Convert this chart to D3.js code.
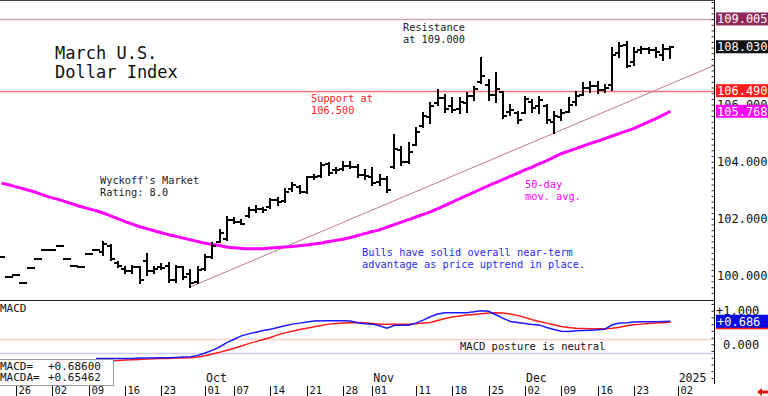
<!DOCTYPE html>
<html>
<head>
<meta charset="utf-8">
<script src="https://cdn.jsdelivr.net/npm/d3@7"></script>
<style>
  body { margin: 0; background: #fff; }
  svg { display: block; font-family: "DejaVu Sans Mono", monospace; }
</style>
</head>
<body>
<svg id="chart" width="768" height="396"></svg>
<script>
// ---- data (one entry per trading session, first bar = 2 sessions before Aug 26) ----
const firstSlot = -2;
const opens = [100.67, 99.97, 100.02, 99.75, 100.26, 100.58, 100.90, 100.90, 101.04, 100.58, 100.33, 100.30, 100.75, 100.90,
  100.85, 101.05, 100.45, 100.25, 100.15, 100.30, 100.50, 100.15, 100.30, 100.35, 99.85, 100.30, 100.05, 99.78,
  100.25, 100.65, 101.20, 101.30, 101.95, 101.90, 102.10, 102.30, 102.35, 102.40, 102.65, 102.62, 103.05, 103.10,
  102.92, 103.45, 103.50, 103.92, 103.70, 103.75, 103.85, 103.80, 103.55, 103.45, 103.30, 103.40, 103.80, 104.40,
  104.00, 104.60, 105.25, 105.55, 106.05, 106.25, 105.95, 105.85, 106.05, 106.30, 106.80, 106.70, 106.35, 106.45,
  105.75, 105.70, 105.70, 106.10, 105.95, 105.95, 105.40, 105.55, 105.75, 106.10, 106.35, 106.60, 106.65, 106.50,
  106.70, 107.80, 108.10, 107.50, 107.90, 107.95, 107.90, 107.75, 107.95];
const highs = [100.67, 99.97, 100.02, 99.75, 100.26, 100.58, 100.90, 100.90, 101.04, 100.58, 100.33, 100.30, 100.75, 100.90,
  101.19, 101.07, 100.49, 100.30, 100.35, 100.32, 100.76, 100.32, 100.40, 100.43, 100.34, 100.32, 100.20, 100.29,
  100.73, 101.14, 101.60, 102.07, 102.02, 101.95, 102.37, 102.45, 102.38, 102.70, 102.73, 103.04, 103.25, 103.15,
  103.47, 103.53, 103.95, 103.95, 103.78, 104.00, 104.00, 103.88, 103.70, 103.78, 103.55, 103.45, 104.93, 104.53,
  104.66, 105.18, 105.70, 106.06, 106.50, 106.33, 106.23, 106.23, 106.41, 106.63, 107.63, 106.87, 107.10, 106.46,
  105.99, 105.75, 106.28, 106.16, 106.28, 105.99, 105.75, 105.80, 106.23, 106.46, 106.75, 106.81, 106.81, 106.69,
  107.98, 108.15, 108.20, 107.98, 108.03, 107.98, 107.98, 108.10, 108.03];
const lows = [100.67, 99.97, 100.02, 99.75, 100.26, 100.58, 100.90, 100.90, 101.04, 100.58, 100.33, 100.30, 100.75, 100.90,
  100.73, 100.55, 100.29, 100.10, 100.10, 99.73, 100.02, 100.10, 100.25, 99.79, 99.79, 99.90, 99.61, 99.73,
  100.20, 100.61, 101.19, 101.25, 101.84, 101.80, 102.07, 102.25, 102.25, 102.37, 102.48, 102.60, 102.98, 102.90,
  102.89, 103.39, 103.47, 103.53, 103.60, 103.70, 103.77, 103.47, 103.38, 103.18, 103.20, 102.95, 103.77, 103.88,
  103.95, 104.58, 105.23, 105.36, 105.99, 105.75, 105.75, 105.70, 105.75, 106.16, 106.75, 106.16, 106.10, 105.52,
  105.64, 105.35, 105.70, 105.75, 105.70, 105.35, 105.00, 105.46, 105.75, 105.99, 106.34, 106.46, 106.40, 106.46,
  106.52, 107.68, 107.31, 107.40, 107.80, 107.80, 107.68, 107.55, 107.63];
const closes = [100.67, 99.97, 100.02, 99.75, 100.26, 100.58, 100.90, 100.90, 101.04, 100.58, 100.33, 100.30, 100.75, 100.90,
  101.10, 100.60, 100.35, 100.18, 100.30, 99.85, 100.15, 100.25, 100.28, 99.85, 100.30, 99.95, 99.75, 100.20,
  100.65, 101.05, 101.50, 101.95, 101.90, 101.82, 102.30, 102.35, 102.30, 102.65, 102.60, 102.95, 103.20, 102.95,
  103.45, 103.48, 103.90, 103.60, 103.72, 103.85, 103.80, 103.55, 103.50, 103.25, 103.40, 103.00, 104.45, 104.00,
  104.35, 105.05, 105.60, 105.95, 106.25, 105.85, 105.80, 106.10, 106.30, 106.55, 107.00, 106.35, 106.55, 105.60,
  105.80, 105.45, 106.20, 105.90, 106.15, 105.45, 105.60, 105.70, 106.00, 106.30, 106.60, 106.65, 106.50, 106.60,
  107.75, 108.05, 107.35, 107.85, 107.95, 107.90, 107.85, 107.95, 108.03];

// 50-day moving average, same sessions as the bars
const ma50 = [103.25, 103.19, 103.12, 103.05, 102.98, 102.90, 102.81, 102.73, 102.66, 102.58, 102.50, 102.42, 102.35, 102.28,
  102.20, 102.10, 102.00, 101.90, 101.81, 101.72, 101.65, 101.58, 101.51, 101.44, 101.38, 101.32, 101.26, 101.20,
  101.14, 101.10, 101.06, 101.01, 100.98, 100.96, 100.95, 100.95, 100.95, 100.97, 100.99, 101.01, 101.03, 101.05,
  101.08, 101.11, 101.15, 101.20, 101.24, 101.28, 101.34, 101.41, 101.48, 101.55, 101.61, 101.70, 101.79, 101.88,
  101.97, 102.06, 102.15, 102.24, 102.35, 102.47, 102.58, 102.70, 102.82, 102.93, 103.05, 103.16, 103.27, 103.38,
  103.49, 103.60, 103.71, 103.81, 103.93, 104.04, 104.16, 104.28, 104.37, 104.46, 104.55, 104.64, 104.72, 104.81,
  104.90, 104.99, 105.08, 105.17, 105.28, 105.40, 105.51, 105.63, 105.768];

// MACD (blue) and its average (red), starting at session 11
const macdStart = 11;
const macd = [-0.42, -0.42, -0.42, -0.42, -0.42, -0.42, -0.41, -0.41, -0.41, -0.40, -0.40, -0.39, -0.38, -0.37,
  -0.33, -0.26, -0.18, -0.08, 0.05, 0.15, 0.25, 0.31, 0.36, 0.41, 0.45, 0.50, 0.55, 0.60, 0.63, 0.66, 0.69, 0.70,
  0.70, 0.70, 0.70, 0.69, 0.64, 0.61, 0.60, 0.55, 0.48, 0.56, 0.57, 0.57, 0.63, 0.72, 0.82, 0.90, 0.94, 0.94, 0.94,
  0.94, 0.97, 1.00, 0.98, 0.88, 0.77, 0.68, 0.65, 0.62, 0.59, 0.57, 0.50, 0.44, 0.39, 0.38, 0.40, 0.41, 0.42, 0.43,
  0.45, 0.58, 0.63, 0.64, 0.66, 0.67, 0.67, 0.67, 0.68, 0.686];
const macdAvg = [-0.50, -0.50, -0.49, -0.48, -0.47, -0.46, -0.45, -0.44, -0.43, -0.42, -0.42, -0.41, -0.41, -0.40,
  -0.38, -0.34, -0.29, -0.24, -0.18, -0.12, -0.05, 0.02, 0.08, 0.14, 0.20, 0.28, 0.34, 0.39, 0.44, 0.48, 0.52, 0.56,
  0.60, 0.62, 0.63, 0.64, 0.65, 0.64, 0.62, 0.60, 0.60, 0.60, 0.60, 0.60, 0.61, 0.63, 0.65, 0.71, 0.77, 0.81, 0.84,
  0.87, 0.89, 0.91, 0.93, 0.94, 0.93, 0.90, 0.86, 0.80, 0.73, 0.68, 0.63, 0.58, 0.53, 0.50, 0.48, 0.47, 0.46, 0.46,
  0.46, 0.48, 0.51, 0.55, 0.58, 0.60, 0.62, 0.63, 0.64, 0.65462];

// uptrend line drawn through two lows (session, price)
const trendSlots = [24, 74];
const trendPrices = [99.61, 105.0];

const resistance = 109.005;
const support = 106.49;

const priceTicks = [100, 102, 104, 106];
const macdTicks = [1, 0];
const macdBands = [0.16, -0.25];

const dayLabels = ["26", "02", "09", "16", "23", "01", "07", "14", "21", "28", "01", "11", "18", "25", "02", "09", "16", "23", "02"];
const daySlots = [0, 5, 10, 15, 20, 26, 30, 35, 40, 45, 49, 55, 60, 65, 70, 75, 80, 85, 91];
const monthLabels = ["Oct", "Nov", "Dec", "2025"];
const monthSlots = [26, 49, 70, 91];

// ---- layout ----
const svg = d3.select("#chart");
const plotRight = 714;

const x = d3.scaleLinear().domain([-2.2, 96]).range([0, plotRight]);
const y = d3.scaleLinear().domain([99.29, 109.67]).range([296, 0]);
const ym = d3.scaleLinear().domain([-1.152, 1.318]).range([383, 300]);

const bars = opens.map((o, i) => ({ slot: firstSlot + i, o, h: highs[i], l: lows[i], c: closes[i] }));
const px = v => Math.round(v) + 0.5;

// frame lines
svg.append("line").attr("x1", 0).attr("x2", plotRight).attr("y1", 0.5).attr("y2", 0.5).attr("stroke", "#444");
svg.append("line").attr("x1", 0).attr("x2", plotRight).attr("y1", 300.5).attr("y2", 300.5).attr("stroke", "#222");

// resistance / support lines
svg.append("line").attr("x1", 0).attr("x2", plotRight)
  .attr("y1", px(y(resistance))).attr("y2", px(y(resistance)))
  .attr("stroke", "#d6a2bc").attr("stroke-width", 1.5);
svg.append("line").attr("x1", 0).attr("x2", plotRight)
  .attr("y1", px(y(support))).attr("y2", px(y(support)))
  .attr("stroke", "#ff7878").attr("stroke-width", 1.5);

// trendline, extended to the right edge
const slope = (trendPrices[1] - trendPrices[0]) / (trendSlots[1] - trendSlots[0]);
const endSlot = x.domain()[1];
svg.append("line")
  .attr("x1", x(trendSlots[0])).attr("y1", y(trendPrices[0]))
  .attr("x2", x(endSlot)).attr("y2", y(trendPrices[0] + slope * (endSlot - trendSlots[0])))
  .attr("stroke", "#c07a92").attr("stroke-width", 1);

// 50-day MA
svg.append("path")
  .datum(ma50)
  .attr("fill", "none").attr("stroke", "#ff00ff").attr("stroke-width", 3)
  .attr("d", d3.line().x((d, i) => x(firstSlot + i)).y(d => y(d)).curve(d3.curveMonotoneX));

// OHLC bars
const g = svg.append("g").attr("stroke", "#000").attr("stroke-width", 2).attr("shape-rendering", "crispEdges");
bars.forEach(b => {
  const cx = Math.round(x(b.slot));
  if (b.h > b.l) g.append("line").attr("x1", cx).attr("x2", cx).attr("y1", y(b.h) - 1).attr("y2", y(b.l) + 1);
  g.append("line").attr("x1", cx - 4).attr("x2", cx).attr("y1", Math.round(y(b.o))).attr("y2", Math.round(y(b.o)));
  g.append("line").attr("x1", cx).attr("x2", cx + 4).attr("y1", Math.round(y(b.c))).attr("y2", Math.round(y(b.c)));
});

// right price axis
const yAxis = d3.axisLeft(y).tickValues(d3.range(99.4, 109.61, 0.2)).tickSize(3).tickFormat("");
svg.append("g").attr("transform", `translate(${plotRight + 0.5},0)`).call(yAxis)
  .call(a => a.select(".domain").attr("d", "M0,0V300"))
  .call(a => a.selectAll("line").attr("stroke", "#333"));

svg.append("g").selectAll("text").data(priceTicks).join("text")
  .attr("x", 717).attr("y", d => y(d) + 4.5)
  .attr("font-size", 12).attr("fill", "#111")
  .text(d => d3.format(".3f")(d));

function tag(val, scale, text, bg, fg, h) {
  const cy = scale(val);
  svg.append("rect").attr("x", 716).attr("y", cy - h / 2).attr("width", 52).attr("height", h).attr("fill", bg);
  svg.append("text").attr("x", 717).attr("y", cy + 4.5).attr("font-size", 12).attr("fill", fg).text(text);
}
tag(resistance, y, d3.format(".3f")(resistance), "#8e2a58", "#fff", 13);
tag(closes[closes.length - 1], y, d3.format(".3f")(closes[closes.length - 1]), "#111", "#fff", 13);
tag(support, y, d3.format(".3f")(support), "#ff1c1c", "#fff", 13);
tag(ma50[ma50.length - 1], y, d3.format(".3f")(ma50[ma50.length - 1]), "#ff00ff", "#fff", 13);

// ---- MACD panel ----
svg.append("g").selectAll("line").data(macdBands).join("line")
  .attr("x1", 0).attr("x2", plotRight)
  .attr("y1", d => px(ym(d))).attr("y2", d => px(ym(d)))
  .attr("stroke", (d, i) => i === 0 ? "#ffcccc" : "#ccccff").attr("stroke-width", 1.5);

svg.append("path").datum(macdAvg)
  .attr("fill", "none").attr("stroke", "#ff1a1a").attr("stroke-width", 1.5)
  .attr("d", d3.line().x((d, i) => x(macdStart + i)).y(d => ym(d)));
svg.append("path").datum(macd)
  .attr("fill", "none").attr("stroke", "#1a1aff").attr("stroke-width", 1.5)
  .attr("d", d3.line().x((d, i) => x(macdStart + i)).y(d => ym(d)));

const mAxis = d3.axisLeft(ym).tickValues(d3.range(-1.0, 1.31, 0.2)).tickSize(3).tickFormat("");
svg.append("g").attr("transform", `translate(${plotRight + 0.5},0)`).call(mAxis)
  .call(a => a.select(".domain").attr("d", "M0,300V384"))
  .call(a => a.selectAll("line").attr("stroke", "#333"));

svg.append("g").selectAll("text").data(macdTicks).join("text")
  .attr("x", d => d > 0 ? 716 : 723).attr("y", d => ym(d) + 4.5)
  .attr("font-size", 12).attr("fill", "#111")
  .text(d => d > 0 ? "+" + d3.format(".3f")(d) : d3.format(".3f")(d));
tag(macdAvg[macdAvg.length - 1], ym, "", "#ff1a1a", "#fff", 14);
tag(macd[macd.length - 1], ym, "+" + d3.format(".3f")(macd[macd.length - 1]), "#0a0ae0", "#fff", 13);

svg.append("text").attr("x", 0).attr("y", 312).attr("font-size", 11).attr("fill", "#111").text("MACD");
svg.append("text").attr("x", 460).attr("y", 350).attr("font-size", 10.5).attr("fill", "#111")
  .text("MACD posture is neutral");

// value box
svg.append("rect").attr("x", -1).attr("y", 359.5).attr("width", 114.5).attr("height", 26)
  .attr("fill", "#fff").attr("stroke", "#999");
[["MACD=", macd[macd.length - 1]], ["MACDA=", macdAvg[macdAvg.length - 1]]].forEach(([lab, v], i) => {
  svg.append("text").attr("x", 0).attr("y", 370 + i * 11).attr("font-size", 11).attr("fill", "#111").text(lab);
  svg.append("text").attr("x", 48).attr("y", 370 + i * 11).attr("font-size", 11).attr("fill", "#111")
    .text("+" + d3.format(".5f")(v));
});

// ---- date axis ----
const dg = svg.append("g");
daySlots.forEach((s, i) => {
  const tx = Math.round(x(s)) + 0.5;
  dg.append("line").attr("x1", tx).attr("x2", tx).attr("y1", 386).attr("y2", 396).attr("stroke", "#111");
  dg.append("text").attr("x", tx + 2).attr("y", 394).attr("font-size", 10.5).attr("fill", "#111").text(dayLabels[i]);
});
monthSlots.forEach((s, i) => {
  dg.append("text").attr("x", x(s) + 1).attr("y", 382).attr("font-size", 11.5).attr("fill", "#111").text(monthLabels[i]);
});

// red arrow bottom right
svg.append("path").attr("d", "M757,392 L762,388 L762,390.5 L768,390.5 L768,393.5 L762,393.5 L762,396 Z").attr("fill", "#e01010");

// ---- annotations ----
function note(xp, yp, lines, color, size) {
  const t = svg.append("text").attr("x", xp).attr("y", yp).attr("font-size", size).attr("fill", color);
  lines.forEach((l, i) => t.append("tspan").attr("x", xp).attr("dy", i ? size * 1.12 : 0).text(l));
}
note(55, 59, ["March U.S.", "Dollar Index"], "#111", 17);
note(403, 31, ["Resistance", "at 109.000"], "#222", 10.3);
note(311, 102, ["Support at", "106.500"], "#ff1c1c", 10.3);
note(100, 184, ["Wyckoff's Market", "Rating: 8.0"], "#222", 10.3);
note(525, 188, ["50-day", "mov. avg."], "#ff00ff", 10.3);
note(362, 256, ["Bulls have solid overall near-term", "advantage as price uptrend in place."], "#2a2aff", 10.3);
</script>
</body>
</html>
